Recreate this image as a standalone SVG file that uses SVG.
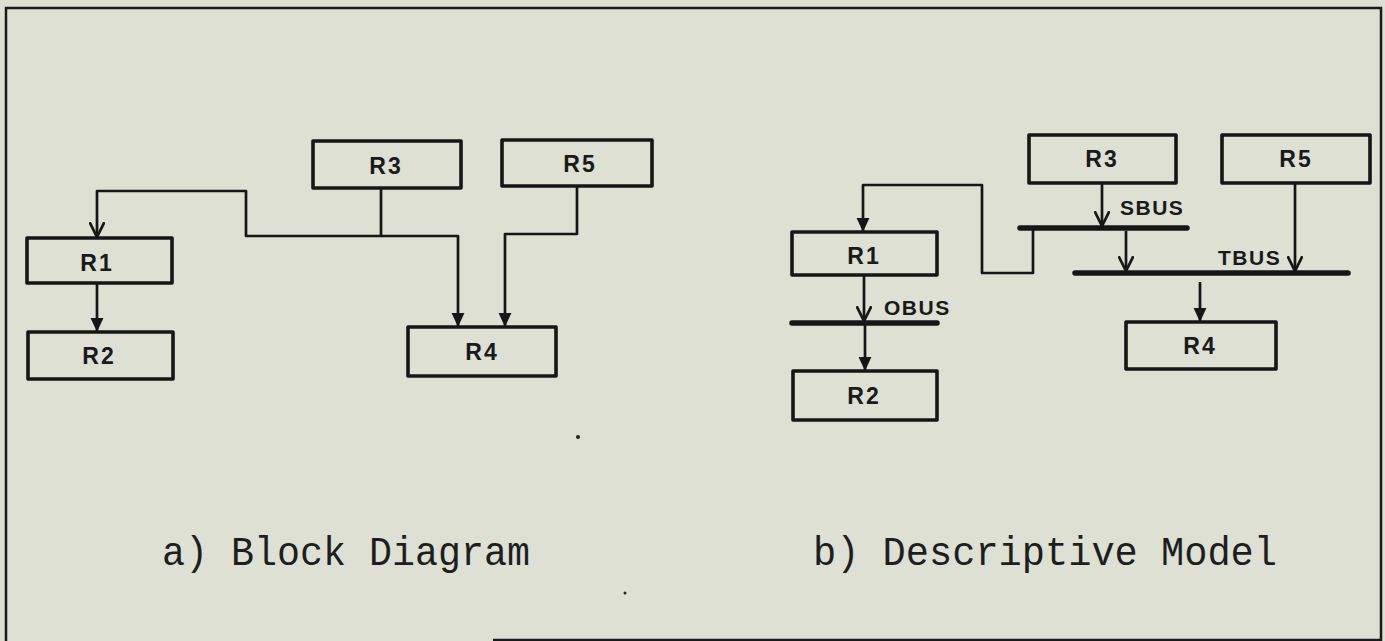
<svg xmlns="http://www.w3.org/2000/svg" width="1385" height="641" viewBox="0 0 1385 641">
<defs>
<style>
.bg{fill:#dde0d3}
.box{fill:none;stroke:#161616;stroke-width:3.6;stroke-linejoin:round}
.wire{fill:none;stroke:#161616;stroke-width:2.7;stroke-linejoin:round}
.bus{fill:none;stroke:#161616;stroke-width:5.5;stroke-linecap:round}
.lbl{font-family:"Liberation Sans",Arial,sans-serif;font-weight:bold;font-size:23px;fill:#1a1a1a;text-anchor:middle;letter-spacing:2px}
.bl{font-family:"Liberation Sans",Arial,sans-serif;font-weight:bold;font-size:21px;fill:#1a1a1a;letter-spacing:1.5px}
.cap{font-family:"Liberation Mono","Courier New",monospace;font-size:40px;fill:#1e1e1e}
</style>
<marker id="fa" markerUnits="userSpaceOnUse" markerWidth="14" markerHeight="14" refX="12" refY="6" orient="auto" viewBox="0 0 12 12">
<path d="M0,0.5 L12,6 L0,11.5 z" fill="#161616"/>
</marker>
<marker id="oa" markerUnits="userSpaceOnUse" markerWidth="16" markerHeight="16" refX="13" refY="7" orient="auto" viewBox="0 0 14 14">
<path d="M0,0.5 L13,7 L0,13.5" fill="none" stroke="#161616" stroke-width="2.4"/>
</marker>
</defs>
<rect class="bg" x="0" y="0" width="1385" height="641"/>
<path d="M6,641 V8 H1381 V641 M493,640 H1381" fill="none" stroke="#1a1a1a" stroke-width="2.5"/>

<g id="connectors">
<path class="wire" d="M381,188 V236 H246 V191 H97 V237" marker-end="url(#oa)"/>
<path class="wire" d="M381,236 H458 V327" marker-end="url(#fa)"/>
<path class="wire" d="M577,186 V234 H505 V327" marker-end="url(#fa)"/>
<path class="wire" d="M97,283 V332" marker-end="url(#fa)"/>

<path class="wire" d="M1033,228 V273 H982 V185 H863 V232" marker-end="url(#fa)"/>
<path class="wire" d="M1102,183 V226" marker-end="url(#oa)"/>
<path class="wire" d="M1126,231 V271" marker-end="url(#oa)"/>
<path class="wire" d="M1295,183 V271" marker-end="url(#oa)"/>
<path class="wire" d="M1200,282 V322" marker-end="url(#fa)"/>
<path class="wire" d="M864,275 V321" marker-end="url(#oa)"/>
<path class="wire" d="M865,323 V371" marker-end="url(#fa)"/>
</g>

<g id="buses">
<line class="bus" x1="1020" y1="228" x2="1187" y2="228"/>
<line class="bus" x1="1075" y1="273" x2="1348" y2="273"/>
<line class="bus" x1="792" y1="323" x2="937" y2="323"/>
<text class="bl" x="1120" y="215">SBUS</text>
<text class="bl" x="1218" y="265">TBUS</text>
<text class="bl" x="884" y="315">OBUS</text>
</g>

<g id="a-R1"><rect class="box" x="27" y="238" width="145" height="45"/><text class="lbl" x="97" y="271">R1</text></g>
<g id="a-R2"><rect class="box" x="28" y="332" width="145" height="47"/><text class="lbl" x="99" y="364">R2</text></g>
<g id="a-R3"><rect class="box" x="313" y="141" width="148" height="47"/><text class="lbl" x="386" y="174">R3</text></g>
<g id="a-R5"><rect class="box" x="502" y="140" width="150" height="46"/><text class="lbl" x="580" y="172">R5</text></g>
<g id="a-R4"><rect class="box" x="408" y="327" width="148" height="49"/><text class="lbl" x="482" y="360">R4</text></g>

<g id="b-R1"><rect class="box" x="792" y="232" width="145" height="43"/><text class="lbl" x="864" y="264">R1</text></g>
<g id="b-R2"><rect class="box" x="793" y="371" width="144" height="49"/><text class="lbl" x="864" y="404">R2</text></g>
<g id="b-R3"><rect class="box" x="1029" y="135" width="147" height="48"/><text class="lbl" x="1102" y="167">R3</text></g>
<g id="b-R5"><rect class="box" x="1222" y="135" width="148" height="48"/><text class="lbl" x="1296" y="167">R5</text></g>
<g id="b-R4"><rect class="box" x="1126" y="322" width="150" height="47"/><text class="lbl" x="1200" y="354">R4</text></g>

<text class="cap" x="162" y="565" textLength="368" lengthAdjust="spacingAndGlyphs">a) Block Diagram</text>
<text class="cap" x="813" y="565" textLength="464" lengthAdjust="spacingAndGlyphs">b) Descriptive Model</text>
<circle cx="578" cy="437" r="2" fill="#222"/>
<circle cx="625" cy="593" r="1.5" fill="#222"/>
</svg>
